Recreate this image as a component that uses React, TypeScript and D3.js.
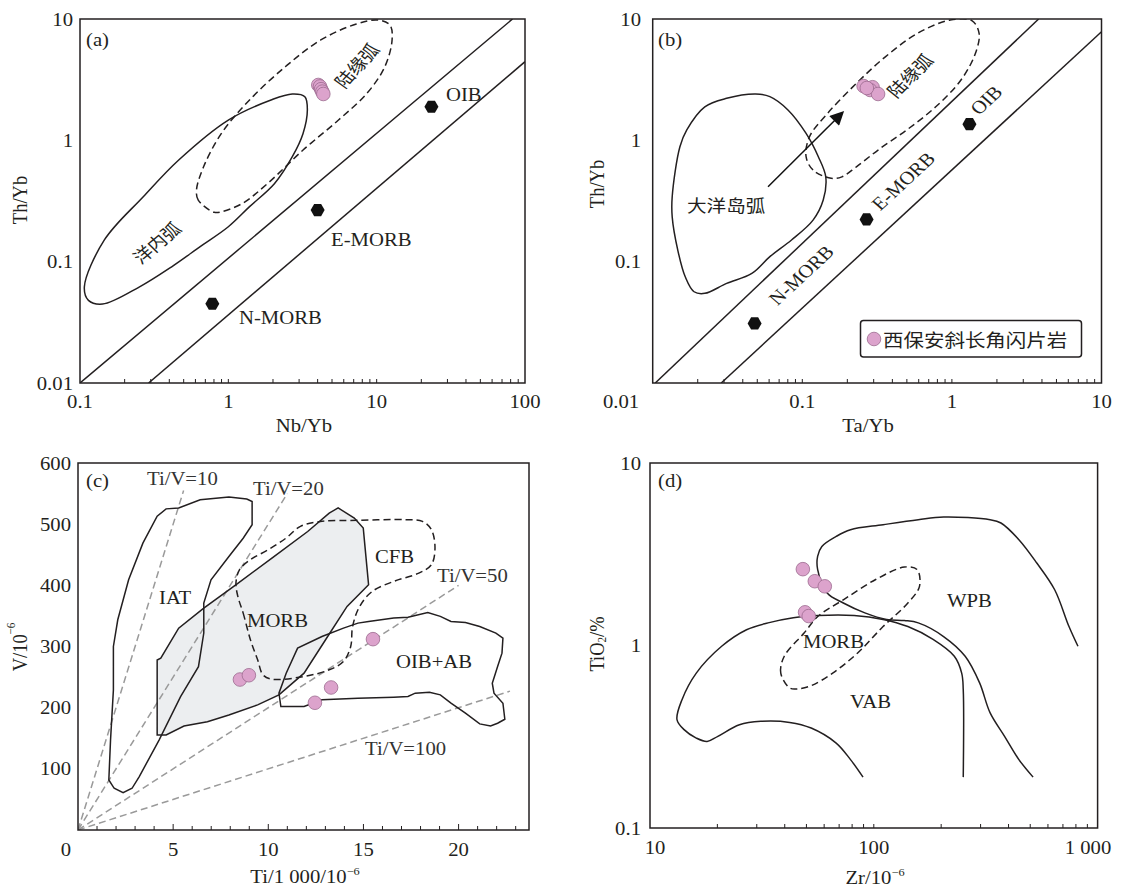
import React from 'react';
import * as d3 from 'd3';

const FONT = "'Liberation Serif','Times New Roman',serif";
const CJK = "'Noto Sans CJK SC','Noto Sans CJK TC',sans-serif";
const SX = 1.12;
const FS = 18.5;
const INK = '#231f20';
const PINK = '#dca3cc';
const PINK_STROKE = '#9c6b8f';

// ---------------- Panel (a): Th/Yb vs Nb/Yb ----------------
const aSampleNb = [4.04, 4.15, 4.22, 4.3, 4.37];
const aSampleTh = [2.86, 2.78, 2.64, 2.52, 2.41];
const aRefNames = ['N-MORB', 'E-MORB', 'OIB'];
const aRefNb = [0.78, 4.0, 23.4];
const aRefTh = [0.045, 0.266, 1.89];
const aArrayUpper: [number, number][] = [[0.1, 0.01], [82.4, 10]];
const aArrayLower: [number, number][] = [[0.29, 0.01], [100, 4.45]];
const aOceanicArc: [number, number][] = [
  [0.107, 0.062], [0.146, 0.151], [0.267, 0.343], [0.463, 0.689], [1.0, 1.47], [1.94, 2.15],
  [2.7, 2.41], [3.28, 2.29], [3.41, 1.78], [3.19, 1.14], [2.7, 0.733], [2.05, 0.441],
  [1.39, 0.284], [1.0, 0.194], [0.646, 0.133], [0.415, 0.0908], [0.252, 0.062],
  [0.142, 0.0447], [0.114, 0.048],
];
const aContArc: [number, number][] = [
  [0.804, 0.255], [0.627, 0.322], [0.61, 0.389], [0.681, 0.605], [0.898, 1.14], [1.39, 2.15],
  [2.42, 4.04], [4.2, 6.72], [7.3, 9.1], [10.2, 9.8], [12.3, 8.9], [12.7, 6.7], [11.35, 4.04],
  [8.6, 2.44], [5.53, 1.47], [3.19, 0.832], [1.84, 0.441], [1.25, 0.303], [0.898, 0.258],
];

// ---------------- Panel (b): Th/Yb vs Ta/Yb ----------------
const bSampleTa = [0.257, 0.295, 0.284, 0.321, 0.27];
const bSampleTh = [2.8, 2.74, 2.6, 2.41, 2.7];
const bRefNames = ['N-MORB', 'E-MORB', 'OIB'];
const bRefTa = [0.048, 0.269, 1.31];
const bRefTh = [0.031, 0.223, 1.36];
const bArrayUpper: [number, number][] = [[0.0104, 0.01], [3.8, 10]];
const bArrayLower: [number, number][] = [[0.0287, 0.01], [10, 7.85]];
const bIslandArc: [number, number][] = [
  [0.0135, 0.343], [0.0152, 0.886], [0.0169, 1.22], [0.0223, 1.89], [0.0312, 2.22], [0.0487, 2.41],
  [0.0607, 2.29], [0.0802, 1.78], [0.106, 1.14], [0.128, 0.733], [0.1435, 0.5], [0.138, 0.322],
  [0.118, 0.22], [0.0847, 0.151], [0.0607, 0.11], [0.046, 0.08], [0.0312, 0.0662], [0.0223, 0.0548],
  [0.0189, 0.0565], [0.0165, 0.075], [0.0147, 0.125], [0.0135, 0.234],
];
const bContArc: [number, number][] = [
  [0.156, 0.486], [0.118, 0.569], [0.106, 0.733], [0.1117, 1.07], [0.1476, 1.67], [0.23, 2.95],
  [0.359, 4.88], [0.59, 7.62], [0.974, 9.8], [1.36, 9.7], [1.52, 7.62], [1.435, 5.2], [1.15, 3.14],
  [0.78, 1.89], [0.5, 1.22], [0.321, 0.832], [0.23, 0.605], [0.184, 0.5],
];
const bArrow: [number, number][] = [[0.059, 0.415], [0.179, 1.62]];

// ---------------- Panel (c): V vs Ti/1000 ----------------
const cSampleTi = [8.51, 8.98, 12.45, 13.3, 15.5];
const cSampleV = [246, 253, 208, 233, 312];
const cRatios = [10, 20, 50, 100];
const cRatioEnds = [5.55, 11.0, 20.0, 22.7];
const cIAT: [number, number][] = [
  [1.62, 81.8], [1.71, 147.3], [1.86, 229], [1.86, 300], [2.09, 343.7], [2.66, 409], [3.41, 469],
  [4.16, 513], [4.63, 525], [5.29, 526.5], [6.42, 540], [7.93, 544.5], [8.87, 541], [9.15, 537],
  [9.15, 499], [8.68, 477], [7.93, 447], [6.99, 409], [6.61, 371], [6.61, 322], [6.33, 267],
  [5.39, 218], [4.26, 147], [3.22, 87.3], [2.84, 68.2], [2.37, 61.1], [1.9, 68.2],
];
const cMORB: [number, number][] = [
  [4.16, 278], [4.16, 155.5], [4.63, 155.5], [5.57, 170], [6.8, 177], [7.93, 188], [9.44, 204.6],
  [10.56, 221], [11.88, 256.4], [13.01, 311], [14.14, 365.5], [15.27, 401], [15.08, 463.7],
  [14.99, 493.7], [14.52, 510], [13.67, 526.5], [13.2, 518], [12.07, 488], [10.19, 444.6],
  [8.31, 401], [6.61, 362.8], [5.29, 330], [4.35, 281],
];
const cCFB: [number, number][] = [
  [8.4, 381.9], [8.68, 354.6], [9.06, 311], [9.44, 278.2], [9.72, 253.7], [10.19, 246.6],
  [11.88, 251], [13.2, 261.9], [13.95, 275.5], [14.33, 300], [14.43, 332.8], [14.8, 365.5],
  [15.46, 390], [16.59, 406.4], [17.91, 420], [18.57, 433.7], [18.76, 461], [18.57, 491],
  [18.1, 504.6], [17.16, 507.4], [14.71, 506.3], [12.82, 504.6], [11.69, 496.5], [10.94, 477.4],
  [10.0, 458.3], [9.06, 442], [8.49, 425.5], [8.3, 403.7],
];
const cOIB: [number, number][] = [
  [10.66, 201.9], [10.56, 223.7], [10.94, 256.4], [11.54, 297.3], [12.82, 316.4], [13.95, 330],
  [14.71, 338.2], [15.27, 341], [16.59, 346.4], [17.34, 348], [18.38, 355.7], [19.04, 349.2],
  [19.6, 341], [20.36, 339.3], [21.11, 332.8], [21.96, 321.9], [22.33, 313.7], [22.28, 289.1],
  [22.05, 267.3], [21.77, 240], [21.86, 223.7], [22.33, 207.3], [22.43, 181.1], [22.05, 174.6],
  [21.68, 170.2], [21.11, 173.5], [20.36, 191], [19.6, 207.3], [19.04, 221], [18.47, 225.3],
  [17.72, 223.7], [17.34, 218.2], [16.59, 217.1], [14.71, 215.5], [12.82, 212.8], [11.88, 201.9],
  [10.94, 201.9],
];

// ---------------- Panel (d): TiO2 vs Zr ----------------
const dSampleZr = [48.2, 54.5, 60.4, 49.3, 51.2];
const dSampleTi = [2.62, 2.25, 2.11, 1.52, 1.45];
const dWPB: [number, number][] = [
  [817, 0.99], [745, 1.27], [643, 2.02], [535, 2.83], [445, 3.8], [370, 4.69], [331, 4.89],
  [205, 5.06], [158, 4.89], [110, 4.59], [78.7, 4.31], [67.9, 3.96], [58.6, 3.49], [56.1, 3.08],
  [56.1, 2.61], [61.9, 1.94], [73.1, 1.71], [91.2, 1.51], [114, 1.39], [137, 1.37], [158, 1.33],
  [205, 1.12], [256, 0.873], [297, 0.624], [331, 0.427], [384, 0.318], [445, 0.237], [515, 0.19],
];
const dVAB: [number, number][] = [
  [251, 0.19], [251, 0.573], [247, 0.706], [229, 0.873], [184, 1.08], [142, 1.27], [110, 1.39],
  [81.7, 1.46], [56.5, 1.46], [43.7, 1.42], [33.7, 1.33], [27, 1.22], [20.9, 0.99], [16.1, 0.706],
  [13.9, 0.505], [13.2, 0.393], [14.2, 0.346], [16.1, 0.311], [18.0, 0.298], [20.1, 0.318],
  [25.1, 0.368], [31.3, 0.384], [42.1, 0.379], [52.5, 0.353], [67.9, 0.292], [78.7, 0.237], [89.5, 0.19],
];
const dMORB: [number, number][] = [
  [42.1, 0.585], [38.4, 0.706], [39.8, 0.873], [48.8, 1.17], [56.5, 1.45], [73.1, 1.78], [102, 2.3],
  [137, 2.69], [156, 2.61], [160, 2.11], [142, 1.71], [110, 1.27], [84.7, 0.91], [65.5, 0.706],
  [52.5, 0.603], [45.3, 0.578],
];

// ---------------- scales ----------------
const ax = d3.scaleLog().domain([0.1, 100]).range([80, 525]);
const ay = d3.scaleLog().domain([0.01, 10]).range([383, 19]);
const bx = d3.scaleLog().domain([0.01, 10]).range([652.7, 1101.5]);
const by = d3.scaleLog().domain([0.01, 10]).range([383, 19]);
const cx = d3.scaleLinear().domain([0, 23.7]).range([78, 529]);
const cy = d3.scaleLinear().domain([0, 600]).range([830, 463]);
const dx = d3.scaleLog().domain([10, 1000]).range([650, 1097.6]);
const dy = d3.scaleLog().domain([0.1, 10]).range([828, 463]);

type Sc = (v: number) => number;

function pathOf(pts: [number, number][], sx: Sc, sy: Sc, curve: any) {
  return d3.line<[number, number]>().x(d => sx(d[0])).y(d => sy(d[1])).curve(curve)(pts) || '';
}

function hexPath(cxp: number, cyp: number, r: number) {
  const pts: [number, number][] = d3.range(6).map(i => {
    const a = (Math.PI / 3) * i;
    return [cxp + r * Math.cos(a), cyp + r * Math.sin(a)];
  });
  return 'M' + pts.map(p => p.join(',')).join('L') + 'Z';
}

function T(props: any) {
  const { x, y, rot = 0, anchor = 'start', size = FS, family = FONT, fill = INK, baseline, children } = props;
  return (
    <text
      transform={`translate(${x},${y}) scale(${SX},1) rotate(${rot})`}
      textAnchor={anchor}
      fontSize={size}
      fontFamily={family}
      fill={fill}
      dominantBaseline={baseline}
    >
      {children}
    </text>
  );
}

function logMinor(domain: [number, number]) {
  const out: number[] = [];
  const lo = Math.round(Math.log10(domain[0]));
  const hi = Math.round(Math.log10(domain[1]));
  for (let k = lo; k < hi; k++) {
    for (let m = 1; m <= 9; m++) {
      const v = m * Math.pow(10, k);
      if (v > domain[0] * 1.0001 && v < domain[1] * 0.9999) out.push(v);
    }
  }
  return out;
}

function Frame({ sx, sy }: { sx: any; sy: any }) {
  const [x0, x1] = sx.range();
  const [y0, y1] = sy.range();
  return <rect x={x0} y={y1} width={x1 - x0} height={y0 - y1} fill="none" stroke={INK} strokeWidth={1.5} />;
}

function BottomTicks({ sx, sy, values, len }: any) {
  const yb = sy.range()[0];
  return (
    <g stroke={INK} strokeWidth={1}>
      {values.map((v: number, i: number) => (
        <line key={i} x1={sx(v)} x2={sx(v)} y1={yb} y2={yb - (typeof len === 'function' ? len(v) : len)} />
      ))}
    </g>
  );
}

function Samples({ xs, ys, sx, sy, r = 6.8 }: any) {
  return (
    <g>
      {xs.map((v: number, i: number) => (
        <circle key={i} cx={sx(v)} cy={sy(ys[i])} r={r} fill={PINK} stroke={PINK_STROKE} strokeWidth={0.8} />
      ))}
    </g>
  );
}

function Refs({ xs, ys, sx, sy }: any) {
  return (
    <g>
      {xs.map((v: number, i: number) => (
        <path key={i} d={hexPath(sx(v), sy(ys[i]), 7)} fill="#111" />
      ))}
    </g>
  );
}

function Sup({ base, sup }: { base: string; sup: string }) {
  return (
    <>
      {base}
      <tspan fontSize={11} dy={-8}>{sup}</tspan>
    </>
  );
}

export default function App() {
  const smooth = d3.curveCatmullRomClosed.alpha(0.5);
  const smoothOpen = d3.curveCatmullRom.alpha(0.5);
  const lin = d3.curveLinearClosed;
  const dash = '7,4';

  const clip = (id: string, sx: any, sy: any) => {
    const [x0, x1] = sx.range();
    const [y0, y1] = sy.range();
    return (
      <clipPath id={id}>
        <rect x={x0} y={y1} width={x1 - x0} height={y0 - y1} />
      </clipPath>
    );
  };

  return (
    <svg width={1127} height={890} style={{ position: 'absolute', left: 0, top: 0, background: '#fff' }}>
      <defs>
        {clip('ca', ax, ay)}
        {clip('cb', bx, by)}
        {clip('cc', cx, cy)}
        {clip('cd', dx, dy)}
        <marker id="arrowHead" viewBox="0 0 10 10" refX="6" refY="5" markerWidth="17" markerHeight="14" orient="auto" markerUnits="userSpaceOnUse">
          <path d="M0,0 L10,5 L0,10 Z" fill="#111" />
        </marker>
      </defs>
      <rect x={0} y={0} width={1127} height={890} fill="#fff" />

      {/* ============ Panel a ============ */}
      <g clipPath="url(#ca)" fill="none" stroke={INK} strokeWidth={1.5}>
        <path d={pathOf(aArrayUpper, ax, ay, d3.curveLinear)} />
        <path d={pathOf(aArrayLower, ax, ay, d3.curveLinear)} />
        <path d={pathOf(aOceanicArc, ax, ay, smooth)} />
        <path d={pathOf(aContArc, ax, ay, smooth)} strokeDasharray={dash} />
      </g>
      <BottomTicks sx={ax} sy={ay} values={logMinor([0.1, 100])} len={4} />
      <Frame sx={ax} sy={ay} />
      <Refs xs={aRefNb} ys={aRefTh} sx={ax} sy={ay} />
      <Samples xs={aSampleNb} ys={aSampleTh} sx={ax} sy={ay} />
      <T x={86} y={46}>(a)</T>
      <T x={446} y={101}>{aRefNames[2]}</T>
      <T x={331} y={246}>{aRefNames[1]}</T>
      <T x={239} y={324}>{aRefNames[0]}</T>
      <T x={156} y={242} rot={-43} anchor="middle" baseline="central" family={CJK} size={17}>洋内弧</T>
      <T x={356} y={65} rot={-51} anchor="middle" baseline="central" family={CJK} size={17}>陆缘弧</T>
      {[10, 1, 0.1, 0.01].map(v => (
        <T key={v} x={73} y={ay(v)} anchor="end" baseline="central">{String(v)}</T>
      ))}
      {[0.1, 1, 10, 100].map(v => (
        <T key={v} x={ax(v)} y={408} anchor="middle">{String(v)}</T>
      ))}
      <T x={304} y={432} anchor="middle">Nb/Yb</T>
      <T x={20} y={200} rot={-90} anchor="middle" baseline="central">Th/Yb</T>

      {/* ============ Panel b ============ */}
      <g clipPath="url(#cb)" fill="none" stroke={INK} strokeWidth={1.5}>
        <path d={pathOf(bArrayUpper, bx, by, d3.curveLinear)} />
        <path d={pathOf(bArrayLower, bx, by, d3.curveLinear)} />
        <path d={pathOf(bIslandArc, bx, by, smooth)} />
        <path d={pathOf(bContArc, bx, by, smooth)} strokeDasharray={dash} />
      </g>
      <path d={pathOf(bArrow, bx, by, d3.curveLinear)} stroke="#111" strokeWidth={1.5} fill="none" markerEnd="url(#arrowHead)" />
      <BottomTicks sx={bx} sy={by} values={logMinor([0.01, 10])} len={4} />
      <Frame sx={bx} sy={by} />
      <Refs xs={bRefTa} ys={bRefTh} sx={bx} sy={by} />
      <Samples xs={bSampleTa} ys={bSampleTh} sx={bx} sy={by} />
      <T x={658} y={46}>(b)</T>
      <T x={687} y={212} family={CJK} size={17.5}>大洋岛弧</T>
      <T x={909} y={75} rot={-48} anchor="middle" baseline="central" family={CJK} size={17}>陆缘弧</T>
      <T x={986} y={100} rot={-46} anchor="middle" baseline="central">{bRefNames[2]}</T>
      <T x={903} y={181} rot={-46} anchor="middle" baseline="central">{bRefNames[1]}</T>
      <T x={801} y={275} rot={-46} anchor="middle" baseline="central">{bRefNames[0]}</T>
      {[10, 1, 0.1].map(v => (
        <T key={v} x={641} y={by(v)} anchor="end" baseline="central">{String(v)}</T>
      ))}
      {[0.01, 0.1, 1, 10].map(v => (
        <T key={v} x={v === 0.01 ? 621 : bx(v)} y={408} anchor="middle">{String(v)}</T>
      ))}
      <T x={868} y={432} anchor="middle">Ta/Yb</T>
      <T x={597} y={184} rot={-90} anchor="middle" baseline="central">Th/Yb</T>
      <rect x={860.5} y={320.5} width={221} height={36.5} rx={3} fill="#fff" stroke={INK} strokeWidth={1.5} />
      <circle cx={874} cy={339} r={6.8} fill={PINK} stroke={PINK_STROKE} strokeWidth={0.8} />
      <T x={883} y={339} baseline="central" family={CJK} size={18.3}>西保安斜长角闪片岩</T>

      {/* ============ Panel c ============ */}
      <g clipPath="url(#cc)">
        <path d={pathOf(cMORB, cx, cy, lin)} fill="#eceef0" stroke="none" />
        <g stroke="#9a9a9a" strokeWidth={1.5} strokeDasharray="7,4" fill="none">
          {cRatios.map((r, i) => (
            <line key={r} x1={cx(0)} y1={cy(0)} x2={cx(cRatioEnds[i])} y2={cy((cRatioEnds[i] * 1000) / r)} />
          ))}
        </g>
        <g fill="none" stroke={INK} strokeWidth={1.5}>
          <path d={pathOf(cMORB, cx, cy, lin)} />
          <path d={pathOf(cIAT, cx, cy, lin)} />
          <path d={pathOf(cCFB, cx, cy, d3.curveCatmullRomClosed.alpha(0.5))} strokeDasharray={dash} />
          <path d={pathOf(cOIB, cx, cy, lin)} />
        </g>
      </g>
      <BottomTicks sx={cx} sy={cy} values={d3.range(1, 24)} len={(v: number) => (v % 5 === 0 ? 6 : 4)} />
      <Frame sx={cx} sy={cy} />
      <Samples xs={cSampleTi} ys={cSampleV} sx={cx} sy={cy} />
      <T x={86} y={487}>(c)</T>
      <T x={147} y={485} fill="#333">Ti/V=10</T>
      <T x={253} y={495} fill="#333">Ti/V=20</T>
      <T x={437} y={582} fill="#333">Ti/V=50</T>
      <T x={365} y={755} fill="#333">Ti/V=100</T>
      <T x={159} y={604}>IAT</T>
      <T x={247} y={627}>MORB</T>
      <T x={375} y={563}>CFB</T>
      <T x={396} y={668}>OIB+AB</T>
      {[100, 200, 300, 400, 500, 600].map(v => (
        <T key={v} x={71} y={cy(v)} anchor="end" baseline="central">{String(v)}</T>
      ))}
      {[0, 5, 10, 15, 20].map(v => (
        <T key={v} x={v === 0 ? 66 : cx(v)} y={856} anchor="middle">{String(v)}</T>
      ))}
      <T x={305} y={883} anchor="middle"><Sup base="Ti/1 000/10" sup="−6" /></T>
      <T x={20} y={647} rot={-90} anchor="middle" baseline="central"><Sup base="V/10" sup="−6" /></T>

      {/* ============ Panel d ============ */}
      <g clipPath="url(#cd)" fill="none" stroke={INK} strokeWidth={1.5}>
        <path d={pathOf(dWPB, dx, dy, smoothOpen)} />
        <path d={pathOf(dVAB, dx, dy, smoothOpen)} />
        <path d={pathOf(dMORB, dx, dy, smooth)} strokeDasharray={dash} />
      </g>
      <BottomTicks sx={dx} sy={dy} values={logMinor([10, 1000])} len={4} />
      <Frame sx={dx} sy={dy} />
      <Samples xs={dSampleZr} ys={dSampleTi} sx={dx} sy={dy} />
      <T x={658} y={487}>(d)</T>
      <T x={947} y={607}>WPB</T>
      <T x={803} y={648}>MORB</T>
      <T x={850} y={708}>VAB</T>
      {[10, 1, 0.1].map(v => (
        <T key={v} x={641} y={dy(v)} anchor="end" baseline="central">{String(v)}</T>
      ))}
      {[10, 100, 1000].map(v => (
        <T key={v} x={v === 10 ? 655 : v === 1000 ? 1088 : dx(v)} y={854} anchor="middle">{v === 1000 ? '1 000' : String(v)}</T>
      ))}
      <T x={875} y={884} anchor="middle"><Sup base="Zr/10" sup="−6" /></T>
      <T x={597} y={644} rot={-90} anchor="middle" baseline="central">
        TiO<tspan fontSize={11} dy={4}>2</tspan><tspan dy={-4}>/%</tspan>
      </T>
    </svg>
  );
}
